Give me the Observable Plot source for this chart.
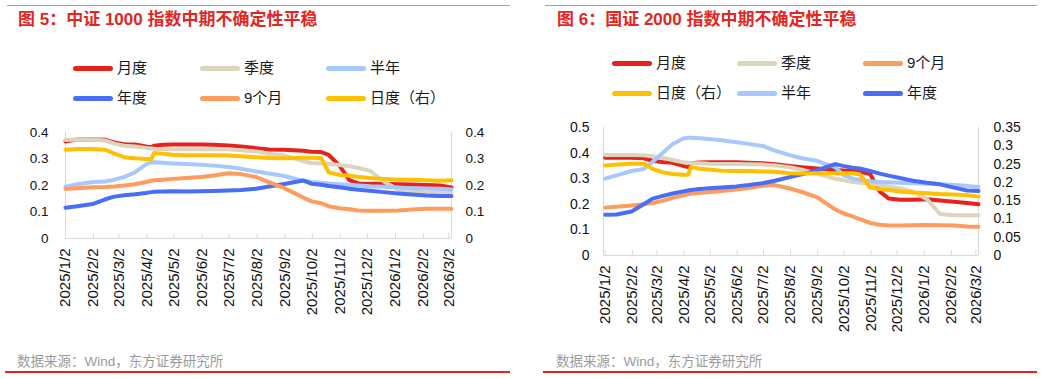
<!DOCTYPE html>
<html><head><meta charset="utf-8">
<script src="https://cdn.jsdelivr.net/npm/d3@7"></script>
<script src="https://cdn.jsdelivr.net/npm/@observablehq/plot@0.6"></script>
<style>
body{margin:0;width:1061px;height:379px;background:#fff;position:relative;overflow:hidden;font-family:"Liberation Sans","Noto Sans CJK SC",sans-serif;}
.topline{position:absolute;height:1px;background:#f0857f;}
.botline{position:absolute;height:2px;background:#e8231f;}
.title{position:absolute;font-size:17px;font-weight:bold;color:#e3261f;white-space:nowrap;line-height:20px;}
.foot{position:absolute;font-size:13.5px;color:#9a9a9a;white-space:nowrap;line-height:16px;}
.leg{position:absolute;display:flex;align-items:center;font-size:15px;color:#1a1a1a;white-space:nowrap;line-height:18px;}
.sw{display:inline-block;width:40px;height:5px;border-radius:3px;margin-right:4px;}
.chart{position:absolute;}
</style></head><body>
<script>
// ---- data ----
const dates = ["2025-01-02","2025-01-15","2025-02-01","2025-02-15","2025-02-25","2025-03-08","2025-03-20","2025-04-01","2025-04-07","2025-04-10","2025-04-20","2025-05-01","2025-05-15","2025-06-01","2025-06-15","2025-07-01","2025-07-15","2025-08-01","2025-08-15","2025-09-01","2025-09-22","2025-10-01","2025-10-12","2025-10-20","2025-11-01","2025-11-12","2025-11-22","2025-12-05","2025-12-20","2026-01-05","2026-01-20","2026-02-05","2026-02-20","2026-03-05"];
const tickDates = ["2025-01-02","2025-02-02","2025-03-02","2025-04-02","2025-05-02","2025-06-02","2025-07-02","2025-08-02","2025-09-02","2025-10-02","2025-11-02","2025-12-02","2026-01-02","2026-02-02","2026-03-02"];

// 中证1000
const c1000Month   = [0.366,0.374,0.374,0.373,0.362,0.356,0.355,0.347,0.344,0.35,0.354,0.355,0.355,0.355,0.354,0.351,0.347,0.341,0.336,0.335,0.331,0.327,0.326,0.316,0.275,0.22,0.208,0.207,0.207,0.205,0.204,0.202,0.2,0.193];
const c1000Quarter = [0.372,0.374,0.373,0.37,0.358,0.35,0.347,0.342,0.34,0.339,0.338,0.337,0.337,0.337,0.337,0.337,0.333,0.328,0.32,0.314,0.292,0.285,0.283,0.281,0.277,0.273,0.266,0.255,0.215,0.185,0.176,0.175,0.174,0.173];
const c1000Half    = [0.195,0.205,0.213,0.215,0.222,0.232,0.25,0.28,0.287,0.288,0.286,0.283,0.281,0.278,0.275,0.27,0.263,0.253,0.245,0.236,0.217,0.213,0.21,0.208,0.205,0.202,0.2,0.197,0.195,0.192,0.19,0.189,0.188,0.185];
const c1000Year    = [0.116,0.122,0.13,0.148,0.158,0.163,0.167,0.172,0.175,0.176,0.177,0.178,0.177,0.178,0.179,0.181,0.183,0.188,0.196,0.206,0.219,0.207,0.203,0.198,0.193,0.188,0.184,0.18,0.175,0.17,0.166,0.162,0.16,0.16];
const c1000Nine    = [0.187,0.19,0.193,0.194,0.196,0.2,0.205,0.213,0.218,0.22,0.222,0.225,0.228,0.232,0.238,0.246,0.243,0.232,0.213,0.19,0.155,0.14,0.133,0.122,0.114,0.11,0.106,0.105,0.105,0.106,0.109,0.112,0.112,0.112];
const c1000Day     = [0.335,0.338,0.338,0.335,0.32,0.307,0.303,0.3,0.3,0.323,0.32,0.316,0.314,0.314,0.314,0.313,0.31,0.307,0.304,0.303,0.305,0.305,0.303,0.25,0.24,0.238,0.232,0.228,0.225,0.222,0.222,0.22,0.218,0.22];

// 国证2000 (日度 on right axis, 0-0.35)
const g2000Month   = [0.382,0.382,0.382,0.38,0.37,0.365,0.362,0.35,0.345,0.36,0.363,0.364,0.364,0.364,0.362,0.36,0.356,0.35,0.345,0.34,0.334,0.332,0.33,0.328,0.318,0.25,0.223,0.218,0.218,0.22,0.215,0.21,0.205,0.2];
const g2000Quarter = [0.393,0.393,0.393,0.392,0.388,0.382,0.373,0.364,0.362,0.361,0.36,0.358,0.357,0.357,0.356,0.355,0.352,0.345,0.335,0.32,0.3,0.295,0.287,0.284,0.28,0.275,0.27,0.262,0.25,0.22,0.162,0.157,0.157,0.157];
const g2000Nine    = [0.187,0.19,0.195,0.2,0.205,0.213,0.225,0.235,0.24,0.241,0.244,0.248,0.252,0.258,0.264,0.272,0.275,0.262,0.248,0.228,0.18,0.165,0.153,0.142,0.127,0.12,0.117,0.117,0.118,0.119,0.118,0.117,0.113,0.112];
const g2000Day     = [0.246,0.249,0.251,0.251,0.237,0.228,0.223,0.221,0.221,0.242,0.237,0.235,0.232,0.231,0.231,0.23,0.229,0.225,0.224,0.225,0.225,0.225,0.225,0.222,0.186,0.182,0.179,0.175,0.172,0.17,0.168,0.167,0.165,0.161];
const g2000Half    = [0.3,0.313,0.33,0.338,0.365,0.398,0.435,0.457,0.46,0.46,0.458,0.455,0.45,0.442,0.436,0.428,0.41,0.392,0.38,0.37,0.345,0.315,0.3,0.296,0.29,0.287,0.286,0.284,0.282,0.28,0.278,0.275,0.272,0.268];
const g2000Year    = [0.159,0.16,0.172,0.2,0.222,0.232,0.242,0.25,0.254,0.256,0.26,0.263,0.266,0.27,0.275,0.282,0.292,0.306,0.317,0.332,0.357,0.35,0.343,0.34,0.33,0.32,0.312,0.303,0.292,0.284,0.278,0.265,0.254,0.252];

const leftTicks1 = [0,0.1,0.2,0.3,0.4];
const leftTicks2 = [0,0.1,0.2,0.3,0.4,0.5];
const rightTicks2 = [0,0.05,0.1,0.15,0.2,0.25,0.3,0.35];

const colors = {月度:"#e5231c", 季度:"#ddd4bd", 半年:"#a7c8fc", 年度:"#4a6df5", "9个月":"#fd9c5d", "日度（右）":"#ffc000"};

// ---- helpers ----
const parse = s => new Date(s + "T00:00:00Z");
const fmtDate = d => `${d.getUTCFullYear()}/${d.getUTCMonth()+1}/${d.getUTCDate()}`;
const fmtNum = d => String(+(+d).toFixed(2));

function el(tag, cls, style, html){const e=document.createElement(tag); if(cls) e.className=cls; Object.assign(e.style, style||{}); if(html!=null) e.innerHTML=html; document.body.appendChild(e); return e;}

function panel(cfg){
  el("div","topline",{left:cfg.lineX0+"px",width:(cfg.lineX1-cfg.lineX0)+"px",top:"5px"});
  el("div","botline",{left:(cfg.lineX0-2)+"px",width:(cfg.lineX1-cfg.lineX0+2)+"px",top:"371px"});
  el("div","title",{left:cfg.titleX+"px",top:"10px"},cfg.title);
  el("div","foot",{left:cfg.footX+"px",top:"354px"},"数据来源：Wind，东方证券研究所");
  cfg.legend.forEach((name,i)=>{
    const col=i%3,row=Math.floor(i/3);
    const d=el("div","leg",{left:cfg.legX[col]+"px",top:(cfg.legY[row]-9)+"px"});
    d.innerHTML=`<span class="sw" style="background:${colors[name]}"></span>${name}`;
  });

  const x0=parse(cfg.xDomain[0]), x1=parse(cfg.xDomain[1]);
  const plotH=cfg.height-cfg.marginTop-cfg.marginBottom;
  const lines = cfg.series.map(s => Plot.line(
    dates.map((d,i)=>({date:parse(d), value:s.values[i]*(s.factor||1)})),
    {x:"date", y:"value", stroke:colors[s.name], strokeWidth:4, strokeLinejoin:"round", strokeLinecap:"round"}
  ));
  const chart = Plot.plot({
    width:cfg.width, height:cfg.height,
    marginTop:cfg.marginTop, marginBottom:cfg.marginBottom, marginLeft:cfg.marginLeft, marginRight:cfg.marginRight,
    x:{type:"utc", domain:[x0,x1], label:null},
    y:{domain:[0,cfg.yMax], label:null},
    style:{fontFamily:'"Liberation Sans","Noto Sans CJK SC",sans-serif', color:"#111", background:"transparent", overflow:"visible"},
    marks:[
      Plot.ruleY([0],{stroke:"#d9d9d9"}),
      Plot.ruleX([x0,x1],{stroke:"#d9d9d9"}),
      Plot.ruleX(tickDates.map(parse),{stroke:"#d9d9d9", insetTop:plotH-5}),
      ...lines,
      Plot.axisY({anchor:"left", label:null, ticks:cfg.leftTicks, tickFormat:fmtNum, tickSize:0, tickPadding:cfg.padL, fontSize:cfg.yFont}),
      Plot.axisY({anchor:"right", label:null, ticks:cfg.rightTicks.map(v=>v/cfg.rightFactorInv), tickFormat:d=>fmtNum(d*cfg.rightFactorInv), tickSize:0, tickPadding:cfg.padR, fontSize:cfg.yFont, textAnchor:"start"}),
      Plot.axisX({label:null, ticks:tickDates.map(parse), tickFormat:fmtDate, tickRotate:-90, tickSize:0, tickPadding:10, fontSize:15})
    ]
  });
  const wrap=el("div","chart",{left:cfg.left+"px",top:cfg.top+"px",width:cfg.width+"px",height:cfg.height+"px"});
  wrap.appendChild(chart);
}

panel({
  left:0, top:110, width:530, height:240, marginLeft:65, marginRight:79, marginTop:22, marginBottom:112,
  xDomain:["2025-01-02","2026-03-05"], yMax:0.4, leftTicks:leftTicks1, rightTicks:leftTicks1, rightFactorInv:1,
  padL:17, padR:14, yFont:13.5,
  lineX0:7, lineX1:510, titleX:18, footX:17,
  title:"图 5：中证 1000 指数中期不确定性平稳",
  legend:["月度","季度","半年","年度","9个月","日度（右）"], legX:[73,200,326], legY:[68,98],
  series:[
    {name:"月度",values:c1000Month},
    {name:"季度",values:c1000Quarter},
    {name:"半年",values:c1000Half},
    {name:"年度",values:c1000Year},
    {name:"9个月",values:c1000Nine},
    {name:"日度（右）",values:c1000Day}
  ]
});

panel({
  left:530, top:110, width:531, height:250, marginLeft:73, marginRight:83, marginTop:17, marginBottom:105,
  xDomain:["2024-12-31","2026-03-05"], yMax:0.5, leftTicks:leftTicks2, rightTicks:rightTicks2, rightFactorInv:0.7,
  padL:14, padR:15, yFont:14,
  lineX0:545, lineX1:1037, titleX:557, footX:556,
  title:"图 6：国证 2000 指数中期不确定性平稳",
  legend:["月度","季度","9个月","日度（右）","半年","年度"], legX:[612,737,863], legY:[63,93],
  series:[
    {name:"月度",values:g2000Month},
    {name:"季度",values:g2000Quarter},
    {name:"9个月",values:g2000Nine},
    {name:"半年",values:g2000Half},
    {name:"年度",values:g2000Year},
    {name:"日度（右）",values:g2000Day,factor:1/0.7}
  ]
});
</script>
</body></html>
